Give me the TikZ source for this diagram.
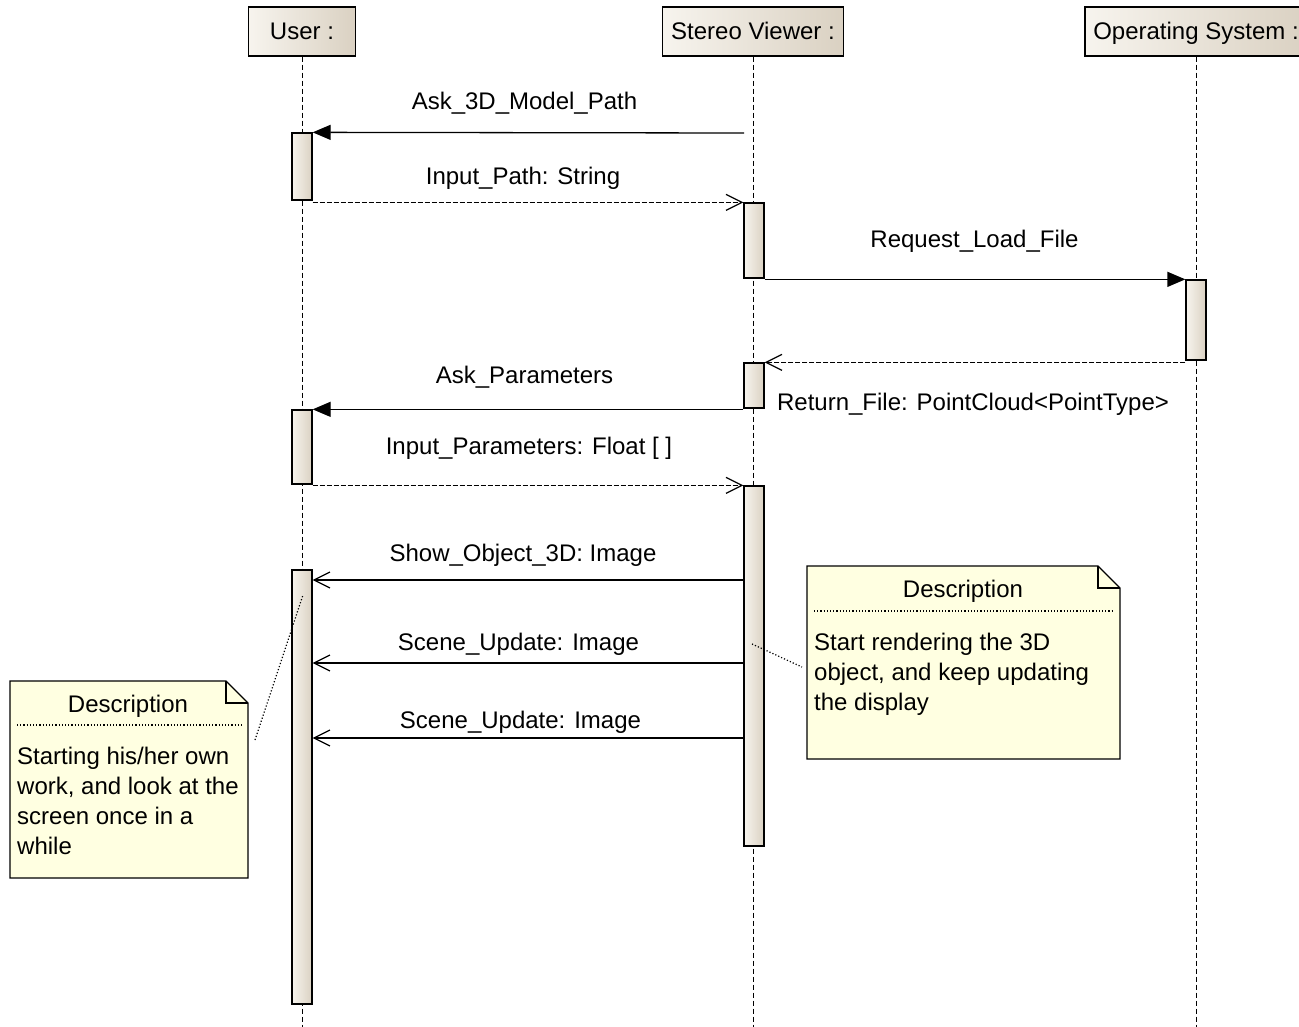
\documentclass[tikz,border=0pt]{standalone}
\usepackage{fontspec}
\setmainfont{Liberation Sans}
\usetikzlibrary{arrows.meta}
\definecolor{headlight}{RGB}{247,244,238}
\definecolor{headdark}{RGB}{218,209,194}
\definecolor{noteyellow}{RGB}{255,255,225}
\begin{document}
\begin{tikzpicture}[x=1pt,y=-1pt,
    every node/.style={font=\fontsize{24}{30}\selectfont},
    head/.style={draw,line width=1.3pt,left color=headlight,right color=headdark,
      minimum height=49pt,inner sep=0pt,text height=17pt,text depth=0pt},
    act/.style={draw,line width=1.3pt,left color=headlight,right color=headdark,
      minimum width=20pt,inner sep=0pt},
    life/.style={line width=1pt,dash pattern=on 5pt off 3pt},
    call/.style={line width=1.3pt,-{Triangle[length=18pt,width=15pt]}},
    reply/.style={line width=1.2pt,dash pattern=on 5pt off 2pt,-{Straight Barb[length=16pt,width=16pt]}},
    async/.style={line width=1.2pt,-{Straight Barb[length=16pt,width=16pt]}},
    msg/.style={anchor=base,inner sep=0pt},
    note/.style={draw,line width=1.3pt,fill=noteyellow},
    link/.style={line width=1.2pt,dash pattern=on 1.2pt off 2pt}]
    \useasboundingbox (0,0) rectangle (1299,1027);
    % lifeline heads
    \node[head,minimum width=107pt] (user) at (302,31.5) {User :};
    \node[head,minimum width=181pt] (viewer) at (753,31.5) {Stereo Viewer :};
    \node[head,minimum width=222pt] (os) at (1196,31.5) {Operating System :};
    \coordinate (bottom) at (0,1027);
    \draw[life] (user.south) -- (user.south |- bottom);
    \draw[life] (viewer.south) -- (viewer.south |- bottom);
    \draw[life] (os.south) -- (os.south |- bottom);
    % activations
    \node[act,minimum height=67pt] (u1) at (302,166.5) {};
    \node[act,minimum height=75pt] (s1) at (754,240.5) {};
    \node[act,minimum height=80pt] (o1) at (1196,320) {};
    \node[act,minimum height=45pt] (s2) at (754,385.5) {};
    \node[act,minimum height=74pt] (u2) at (302,447) {};
    \node[act,minimum height=360pt] (s3) at (754,666) {};
    \node[act,minimum height=434pt] (u3) at (302,787) {};
    % messages
    \coordinate (s0) at (744,133);
    \draw[call] (s0) -- (u1.north east);
    \node[msg] (l1) at (524.5,110) {Ask\_3D\_Model\_Path};
    \draw[reply] (u1.south east |- s1.north west) -- (s1.north west);
    \node[msg] (l2) at (523,185) {Input\_Path: String};
    \draw[call] (s1.south east |- o1.north west) -- (o1.north west);
    \node[msg] (l3) at (974.5,248) {Request\_Load\_File};
    \draw[reply] (s2.north east -| o1.south west) -- (s2.north east);
    \node[msg] (l4) at (973,410) {Return\_File: PointCloud<PointType>};
    \draw[call] (s2.south west |- u2.north east) -- (u2.north east);
    \node[msg] (l5) at (524.5,383) {Ask\_Parameters};
    \draw[reply] (u2.south east |- s3.north west) -- (s3.north west);
    \node[msg] (l6) at (529,454) {Input\_Parameters: Float [ ]};
    \coordinate (m7) at (0,580);
    \coordinate (m8) at (0,663);
    \coordinate (m9) at (0,738);
    \draw[async] (s3.west |- m7) -- (u3.east |- m7);
    \node[msg] (l7) at (523,561) {Show\_Object\_3D: Image};
    \draw[async] (s3.west |- m8) -- (u3.east |- m8);
    \node[msg] (l8) at (518.5,650) {Scene\_Update: Image};
    \draw[async] (s3.west |- m9) -- (u3.east |- m9);
    \node[msg] (l9) at (520.5,728) {Scene\_Update: Image};
    % note for the user
    \draw[note] (10,681) -- (226,681) -- (248,703) -- (248,878) -- (10,878) -- cycle;
    \draw[line width=1.3pt] (226,681) -- (226,703) -- (248,703);
    \draw[link] (17,725) -- (242,725);
    \node[msg] (n1t) at (128,712) {Description};
    \node[anchor=base west,align=left,inner sep=0pt] (n1) at (17,854)
      {Starting his/her own\\work, and look at the\\screen once in a\\while};
    \coordinate (n1c) at (255,740);
    \coordinate (u3c) at (303,595);
    \draw[link] (n1c) -- (u3c);
    % note for the viewer
    \draw[note] (807,566) -- (1098,566) -- (1120,588) -- (1120,759) -- (807,759) -- cycle;
    \draw[line width=1.3pt] (1098,566) -- (1098,588) -- (1120,588);
    \draw[link] (814,611) -- (1114,611);
    \node[msg] (n2t) at (963,597) {Description};
    \node[anchor=base west,align=left,inner sep=0pt] (n2) at (814,710)
      {Start rendering the 3D\\object, and keep updating\\the display};
    \coordinate (s3c) at (752,644);
    \coordinate (n2c) at (802,667);
    \draw[link] (s3c) -- (n2c);
\end{tikzpicture}
\end{document}
